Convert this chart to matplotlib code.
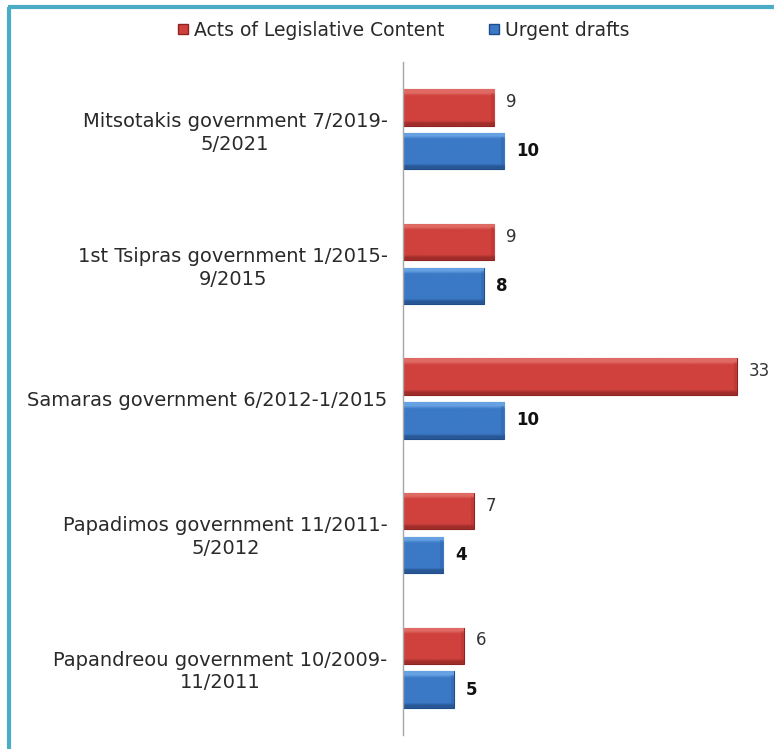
import numpy as np
import matplotlib.pyplot as plt
from matplotlib.colors import LinearSegmentedColormap
from matplotlib.lines import Line2D

# Governments, top to bottom
governments = [
    "Mitsotakis government 7/2019-\n5/2021",
    "1st Tsipras government 1/2015-\n9/2015",
    "Samaras government 6/2012-1/2015",
    "Papadimos government 11/2011-\n5/2012",
    "Papandreou government 10/2009-\n11/2011",
]
acts_legislative = [9, 9, 33, 7, 6]
urgent_drafts = [10, 8, 10, 4, 5]
series_names = ["Acts of Legislative Content", "Urgent drafts"]

red = "#d0413d"
blue = "#3b79c6"

plt.rcParams['font.family'] = ['DejaVu Sans']

fig = plt.figure(figsize=(7.74, 7.49), dpi=100)
ax = fig.add_axes([403 / 774, 14 / 749, 354 / 774, 673 / 749])

n = len(governments)
y = np.arange(n)
h = 0.27
gap = 0.055

bars_red = ax.barh(y - (h + gap) / 2, acts_legislative, height=h, color=red,
                   edgecolor="#8e2421", linewidth=0.8, zorder=2)
bars_blue = ax.barh(y + (h + gap) / 2, urgent_drafts, height=h, color=blue,
                    edgecolor="#1f4c8a", linewidth=0.8, zorder=2)


def bevel(bars, light, base, dark):
    # vertical shading over each bar for the raised look
    grad = np.linspace(0, 1, 128).reshape(-1, 1)
    cmap = LinearSegmentedColormap.from_list(
        "bev", [(0.0, light), (0.1, light), (0.18, base), (0.86, base),
                (0.93, dark), (1.0, dark)])
    for b in bars:
        x0, y0 = b.get_x(), b.get_y()
        w, hh = b.get_width(), b.get_height()
        im = ax.imshow(grad, extent=(x0, x0 + w, y0 + hh, y0), aspect="auto",
                       cmap=cmap, zorder=2.5, interpolation="bilinear")
        im.set_clip_path(b)
        # darker bevel on the right end of the bar
        ax.fill_betweenx([y0 + hh * 0.1, y0 + hh * 0.9], x0 + w - 0.3, x0 + w,
                         color=dark, alpha=0.3, linewidth=0, zorder=2.6)


bevel(bars_red, "#e06a64", red, "#a02d2a")
bevel(bars_blue, "#66a1e3", blue, "#285795")

for b, v in zip(bars_red, acts_legislative):
    ax.text(v + 1.2, b.get_y() + b.get_height() / 2 - 0.04, str(v),
            va="center", ha="left", fontsize=12, color="#333333")
for b, v in zip(bars_blue, urgent_drafts):
    ax.text(v + 1.2, b.get_y() + b.get_height() / 2, str(v),
            va="center", ha="left", fontsize=12, fontweight="bold", color="#111111")

ax.set_ylim(n - 0.5, -0.5)
ax.set_xlim(0, 35)
ax.set_yticks(y)
ax.set_yticklabels(governments, fontsize=14, color="#2a2a2a", ha="right",
                   multialignment="center", linespacing=1.25)
ax.tick_params(axis="y", length=0, pad=11)
ax.set_xticks([])
for side in ["top", "right", "bottom"]:
    ax.spines[side].set_visible(False)
ax.spines["left"].set_color("#a6a6a6")
ax.spines["left"].set_linewidth(1.0)
ax.set_autoscale_on(False)

handles = [
    Line2D([], [], marker="s", linestyle="none", markersize=7.5,
           markerfacecolor=red, markeredgecolor="#8e2421"),
    Line2D([], [], marker="s", linestyle="none", markersize=7.5,
           markerfacecolor=blue, markeredgecolor="#1f4c8a"),
]
fig.legend(handles, series_names, loc="center", bbox_to_anchor=(0.52, 1 - 30 / 749),
           ncol=2, frameon=False, fontsize=13.5, handlelength=0.8,
           handletextpad=0.2, columnspacing=2.2, labelcolor="#2a2a2a")

# teal chart frame, left and top edges
fig.add_artist(Line2D([9 / 774, 9 / 774], [0, 1 - 7 / 749], color="#4bacc6",
                      linewidth=3, solid_capstyle="butt", transform=fig.transFigure))
fig.add_artist(Line2D([7.5 / 774, 1], [1 - 7 / 749, 1 - 7 / 749], color="#4bacc6",
                      linewidth=3, solid_capstyle="butt", transform=fig.transFigure))

fig.savefig("out.png", dpi=100)
